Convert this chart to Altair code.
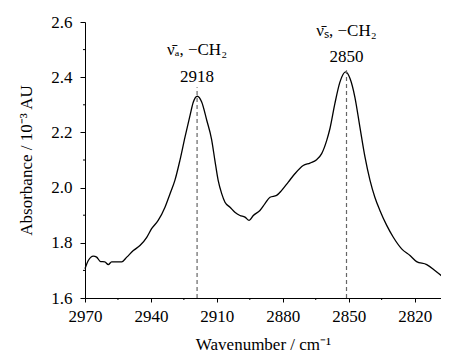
import altair as alt
import pandas as pd

# Spectrum trace
wavenumber = [2970.0, 2968.5, 2966.2, 2964.7, 2962.9, 2961.0, 2959.4, 2957.9, 2953.3, 2951.0,
              2948.0, 2945.0, 2941.9, 2939.7, 2936.7, 2933.6, 2931.3, 2929.1, 2926.8, 2924.5,
              2922.2, 2920.7, 2918.9, 2916.9, 2914.6, 2912.4, 2910.9, 2909.4, 2907.8, 2906.3,
              2904.0, 2901.8, 2899.5, 2897.2, 2895.3, 2893.4, 2890.4, 2888.1, 2885.8, 2882.8,
              2880.5, 2877.5, 2874.5, 2870.7, 2867.6, 2864.6, 2862.3, 2860.0, 2858.5, 2856.3,
              2854.0, 2851.4, 2849.4, 2847.2, 2844.9, 2842.6, 2840.3, 2838.1, 2835.8, 2832.7,
              2829.7, 2825.9, 2822.1, 2819.1, 2814.5, 2810.8, 2807.0, 2804.7]
absorbance = [1.706, 1.736, 1.752, 1.748, 1.732, 1.731, 1.721, 1.731, 1.731, 1.748,
              1.772, 1.790, 1.820, 1.851, 1.881, 1.929, 1.978, 2.026, 2.099, 2.183,
              2.262, 2.310, 2.331, 2.310, 2.244, 2.175, 2.099, 2.026, 1.978, 1.947,
              1.929, 1.911, 1.899, 1.893, 1.881, 1.899, 1.917, 1.942, 1.965, 1.972,
              1.990, 2.020, 2.050, 2.080, 2.089, 2.101, 2.123, 2.171, 2.215, 2.304,
              2.382, 2.419, 2.395, 2.328, 2.219, 2.111, 2.026, 1.965, 1.917, 1.863,
              1.820, 1.778, 1.754, 1.732, 1.721, 1.700, 1.675, 1.657]

# Peak markers
peak_pos = [2919, 2851]
peak_top = [2.364, 2.425]
peak_labels = ["2918", "2850"]
peak_label_y = [2.40, 2.472]
mode_labels = ["ν̄ₐ, −CH₂", "ν̄ₛ, −CH₂"]
mode_label_y = [2.497, 2.566]

x_major = [2970, 2940, 2910, 2880, 2850, 2820]
x_minor = [2955, 2925, 2895, 2865, 2835]
y_major = [1.6, 1.8, 2.0, 2.2, 2.4, 2.6]
y_minor = [1.7, 1.9, 2.1, 2.3, 2.5]

spec = pd.DataFrame({"wn": wavenumber, "a": absorbance})
peaks = pd.DataFrame({"wn": peak_pos, "top": peak_top, "base": [1.6, 1.6],
                      "lab": peak_labels, "laby": peak_label_y,
                      "mode": mode_labels, "modey": mode_label_y})
xmin_df = pd.DataFrame({"wn": x_minor})
ymin_df = pd.DataFrame({"a": y_minor})

FONT = "Liberation Serif"
W, H = 356, 276

xscale = alt.Scale(domain=[2808, 2970], reverse=True, nice=False, zero=False)
yscale = alt.Scale(domain=[1.6, 2.6], nice=False, zero=False)

xaxis = alt.Axis(values=x_major, title="Wavenumber / cm⁻¹", grid=False, format="d",
                 tickSize=4, labelFont=FONT, titleFont=FONT, labelFontSize=17, titleFontSize=17,
                 titleFontWeight="normal", labelColor="black", titleColor="black",
                 domainColor="black", tickColor="black", labelPadding=6, titlePadding=12,
                 labelFlush=False, labelOverlap=False)
yaxis = alt.Axis(values=y_major, title="Absorbance / 10⁻³ AU", grid=False, format=".1f",
                 tickSize=5, labelFont=FONT, titleFont=FONT, labelFontSize=17, titleFontSize=17,
                 titleFontWeight="normal", labelColor="black", titleColor="black",
                 domainColor="black", tickColor="black", labelPadding=8, titlePadding=15,
                 labelFlush=False, labelOverlap=False)

line = alt.Chart(spec).mark_line(color="black", strokeWidth=1.3, interpolate="monotone",
                                 clip=False).encode(
    x=alt.X("wn:Q", scale=xscale, axis=xaxis),
    y=alt.Y("a:Q", scale=yscale, axis=yaxis),
)

# minor ticks (outward, short)
xminor = alt.Chart(xmin_df).mark_rule(color="black", strokeWidth=1).encode(
    x="wn:Q", y=alt.value(H), y2=alt.value(H + 2)
)
yminor = alt.Chart(ymin_df).mark_rule(color="black", strokeWidth=1).encode(
    y="a:Q", x=alt.value(-2), x2=alt.value(0)
)

rules = alt.Chart(peaks).mark_rule(color="#666666", strokeDash=[4, 3], strokeWidth=1.2).encode(
    x="wn:Q", y="base:Q", y2="top:Q"
)

labs = alt.Chart(peaks).mark_text(font=FONT, fontSize=17, color="black", align="center",
                                  baseline="middle").encode(
    x="wn:Q", y="laby:Q", text="lab:N"
)
modes = alt.Chart(peaks).mark_text(font=FONT, fontSize=17, color="black", align="center",
                                   baseline="middle").encode(
    x="wn:Q", y="modey:Q", text="mode:N"
)

chart = alt.layer(line, xminor, yminor, rules, labs, modes).properties(
    width=W, height=H,
    autosize=alt.AutoSizeParams(type="none"),
    padding={"left": 77, "top": 14, "right": 0, "bottom": 58},
).configure_view(stroke=None)

chart.save("out.html", embed_options={"renderer": "svg", "actions": False})
